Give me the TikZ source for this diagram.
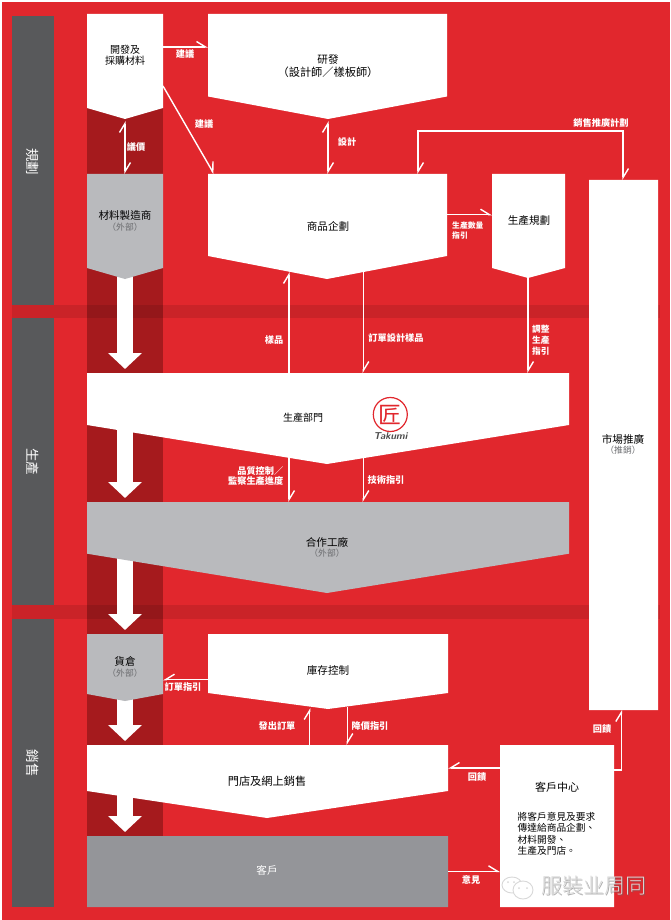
\documentclass[tikz,border=0pt]{standalone}
\usepackage{xcolor}
\usepackage{fontspec}
\setmainfont{Noto Sans CJK TC}
\newfontfamily\markfont{Noto Sans CJK TC Light}
\usetikzlibrary{positioning,calc,arrows.meta}
\definecolor{hlred}{HTML}{E1272D}
\definecolor{hldark}{HTML}{A51A1D}
\definecolor{hlside}{HTML}{58595B}
\definecolor{hlgray}{HTML}{B9BABD}
\definecolor{hlcust}{HTML}{949599}
\definecolor{hlsub}{HTML}{6B6C6F}
\definecolor{hlmark}{HTML}{D8D8D8}
\begin{document}
\begin{tikzpicture}[x=1pt,y=-1pt,
  panel/.style ={rectangle, inner sep=0pt, outer sep=0pt},
  flowL/.style ={draw=white, line width=1.4pt, -{Straight Barb[harpoon,length=9pt,width=11pt,line width=1.4pt]}},
  flowR/.style ={draw=white, line width=1.4pt, -{Straight Barb[harpoon,swap,length=9pt,width=11pt,line width=1.4pt]}},
  flowB/.style ={draw=white, line width=1.4pt, {Straight Barb[harpoon,length=9pt,width=11pt,line width=1.4pt]}-{Straight Barb[harpoon,length=9pt,width=11pt,line width=1.4pt]}},
  bigArrow/.style={draw=white, line width=16pt, shorten >=4pt, -{Triangle[width=33pt,length=16pt]}},
  mainTxt/.style={font=\fontsize{10.6}{11.5}\selectfont, color=black, align=center, inner sep=0pt},
  subTxt/.style ={font=\fontsize{8.8}{10}\selectfont, color=hlsub, align=center, inner sep=0pt},
  flowTxt/.style={font=\fontsize{9.2}{10.7}\bfseries\selectfont, color=white, inner sep=0pt},
  sideTxt/.style={font=\fontsize{13.5}{14}\selectfont, color=white, rotate=-90, inner sep=0pt},
]
\useasboundingbox (0,0) rectangle (670,920);
\fill[white] (0,0) rectangle (670,920);
\fill[hlred] (2,2) rectangle (670,920);
% material column behind the left-hand boxes
\fill[hldark] (87,14) rectangle (163,836);
% bands between the three stages
\fill[black, opacity=0.1] (12,305) rectangle (660,318);
\fill[black, opacity=0.1] (12,605) rectangle (660,619);
\fill[hlside] (12,16) rectangle (54,305);
\fill[hlside] (12,318) rectangle (54,605);
\fill[hlside] (12,619) rectangle (54,907);
% boxes: name/left/top/right/shoulder
\foreach \nm/\xa/\ya/\xb/\yb in {%
  matdev/87/14/163/108,
  matmaker/87/174/163/268,
  research/208/14/447/96.5,
  plan/208/174/447/256,
  sched/492/174/565/268,
  prod/87/373/569/425,
  partner/87/502/569/553.7,
  store/87/634/163/694,
  stock/208/634/448/693,
  shop/87/745/448/791,
  client/87/836/448/907,
  market/589/180/658/710,
  centre/500/745/614/907%
} {
  \pgfmathsetmacro{\ww}{\xb-\xa}
  \pgfmathsetmacro{\hh}{\yb-\ya}
  \node[panel, minimum width=\ww pt, minimum height=\hh pt] (\nm) at ({(\xa+\xb)/2},{(\ya+\yb)/2}) {};
}
% white block arrows go under the boxes
\draw[bigArrow] (matmaker.south) -- (prod.north -| matdev.south);
\draw[bigArrow] (prod.south -| matdev.south) -- (partner.north -| matdev.south);
\draw[bigArrow] (partner.south -| matdev.south) -- (store.north -| matdev.south);
\draw[bigArrow] (store.south) -- (shop.north -| matdev.south);
\draw[bigArrow] (shop.south -| matdev.south) -- (client.north -| matdev.south);
\foreach \nm/\tx/\ty/\col in {%
  matdev/125/119/white, matmaker/125/279/hlgray, research/328/119/white,
  plan/327/279/white, sched/528/278/white, prod/327/464/white,
  partner/327/593/hlgray, store/125/701/hlgray, stock/328/709/white,
  shop/267/818/white, client/267/907/hlcust, market/623/710/white, centre/557/907/white%
} {
  \fill[\col] (\nm.north west) -- (\nm.north east) -- (\nm.south east) -- (\tx,\ty) -- (\nm.south west) -- cycle;
}
% free ends on the sloped edges
\coordinate (sampleTip) at (289,272);
\coordinate (orderTop) at (363.3,271.5);
\coordinate (qualTop) at (289,457);
\coordinate (techTop) at (363.3,458);
\coordinate (issueTip) at (309.7,708);
\coordinate (priceTop) at (347.3,707);
\coordinate (loopCorner) at (623,131);
% connectors
\draw[flowL] (matdev.east |- 0,47) -- (research.west |- 0,47);
\draw[flowL] (matdev.east |- 0,86) -- (plan.north -| 214,0);
\draw[flowB] (matmaker.north -| matdev.south) ++(0,-53) -- (matmaker.north);
\draw[flowB] (plan.north -| 328,0) ++(0,-53) -- (plan.north -| 328,0);
\draw[flowB] (plan.north -| 418,0) |- (loopCorner) -- (market.north -| loopCorner);
\draw[flowL] (plan.east |- 0,214.7) -- (sched.west |- 0,214.7);
\draw[flowL] (prod.north -| sampleTip) -- (sampleTip);
\draw[flowL] (orderTop) -- (prod.north -| orderTop);
\draw[flowL] (sched.south -| 528,0) ++(0,10) -- (prod.north -| 528,0);
\draw[flowL] (qualTop) -- (partner.north -| qualTop);
\draw[flowL] (techTop) -- (partner.north -| techTop);
\draw[flowR] (stock.west |- 0,679.7) -- (store.east |- 0,679.7);
\draw[flowL] (shop.north -| issueTip) -- (issueTip);
\draw[flowL] (priceTop) -- (shop.north -| priceTop);
\draw[flowR] (centre.west |- 0,768) -- (shop.east |- 0,768);
\draw[flowL] (centre.east |- 0,770) -| (market.south -| 621.3,0);
\draw[flowL] (client.east |- 0,871.3) -- (centre.west |- 0,871.3);
% stage names
\node[sideTxt] (sidePlan) at (33,162) {規劃};
\node[sideTxt] (sideProd) at (33,461.5) {生產};
\node[sideTxt] (sideSale) at (33,763) {銷售};
% box texts
\node[mainTxt, font=\fontsize{10}{11.5}\selectfont] (tMatdev) at (125,55) {開發及\\採購材料};
\node[mainTxt] (tResearch) at (328,60) {研發};
\node[mainTxt, font=\fontsize{11.2}{12}\selectfont] (tResearchSub) at (328,72) {（設計師／樣板師）};
\node[mainTxt] (tMaker) at (125,215) {材料製造商};
\node[subTxt]  (tMakerSub) at (125,227) {（外部）};
\node[mainTxt] (tPlan) at (328,226.5) {商品企劃};
\node[mainTxt] (tSched) at (529,220) {生產規劃};
\node[mainTxt] (tMarket) at (623,439) {市場推廣};
\node[subTxt]  (tMarketSub) at (623,450.5) {（推銷）};
\node[mainTxt, font=\fontsize{10}{11.5}\selectfont] (tProd) at (303,418) {生產部門};
\node[mainTxt] (tPartner) at (327,542) {合作工廠};
\node[subTxt]  (tPartnerSub) at (327,553) {（外部）};
\node[mainTxt] (tStore) at (125,661.5) {貨倉};
\node[subTxt]  (tStoreSub) at (125,673.5) {（外部）};
\node[mainTxt] (tStock) at (328,670.5) {庫存控制};
\node[mainTxt, font=\fontsize{11.2}{12}\selectfont] (tShop) at (267,781) {門店及網上銷售};
\node[mainTxt, color=white] (tClient) at (267,870) {客戶};
\node[mainTxt, font=\fontsize{11}{12}\selectfont] (tCentre) at (557,787.5) {客戶中心};
\node[mainTxt, anchor=north west, align=left, font=\fontsize{9.7}{11.5}\selectfont] (tCentreBody) at (517.5,812) {將客戶意見及要求\\傳達給商品企劃、\\材料開發、\\生產及門店。};
% connector labels
\foreach \nm/\lx/\ly/\txt in {%
  lbA/185/54/建議, lbB/204/124/建議, lbC/136/147/議價, lbD/347/142/設計,
  lbE/601/123/銷售推廣計劃, lbF/274/340/樣品, lbG/396/338/訂單設計樣品,
  lbH/386/480/技術指引, lbI/183/687/訂單指引, lbJ/277/726/發出訂單,
  lbK/370/726/降價指引, lbL/477/777/回饋, lbM/602/729/回饋, lbN/471/880/意見%
} {
  \node[flowTxt] (\nm) at (\lx,\ly) {\txt};
}
\node[flowTxt, font=\fontsize{7.8}{10}\bfseries\selectfont, anchor=north west, align=left] (lbO) at (452,222) {生產數量\\指引};
\node[flowTxt, font=\fontsize{8.7}{11}\bfseries\selectfont, anchor=north west, align=left] (lbP) at (532,324.5) {調整\\生產\\指引};
\node[flowTxt, anchor=north east, align=right] (lbQ) at (283.5,466) {品質控制／\\監察生產進度};
% takumi mark
\node[circle, draw=hlred, line width=1.2pt, minimum size=34pt, inner sep=0pt, font=\fontsize{23}{23}\selectfont, text=hlred] (logo) at (390.3,414.5) {匠};
\node[font=\fontsize{10}{11}\sffamily\bfseries\itshape\selectfont, color=black!70, inner sep=0pt] (logoTxt) at (390.5,436.5) {Takumi};
% watermark
\draw[hlmark, line width=0.9pt] (512,885) ellipse (10pt and 8pt);
\draw[hlmark, line width=0.9pt, fill=white] (523,890) ellipse (10pt and 9pt);
\fill[hlmark] (508,882) circle (1pt) (514,882) circle (1pt) (519,888) circle (1pt) (527,888) circle (1pt);
\node[font=\markfont\fontsize{21}{22}\selectfont, color=black!60, opacity=0.55, inner sep=0pt] (markShade) at (595,886.5) {服裝业周同};
\node[font=\markfont\fontsize{21}{22}\selectfont, color=hlmark, inner sep=0pt] (markTxt) at (594,885.5) {服裝业周同};
\end{tikzpicture}
\end{document}
